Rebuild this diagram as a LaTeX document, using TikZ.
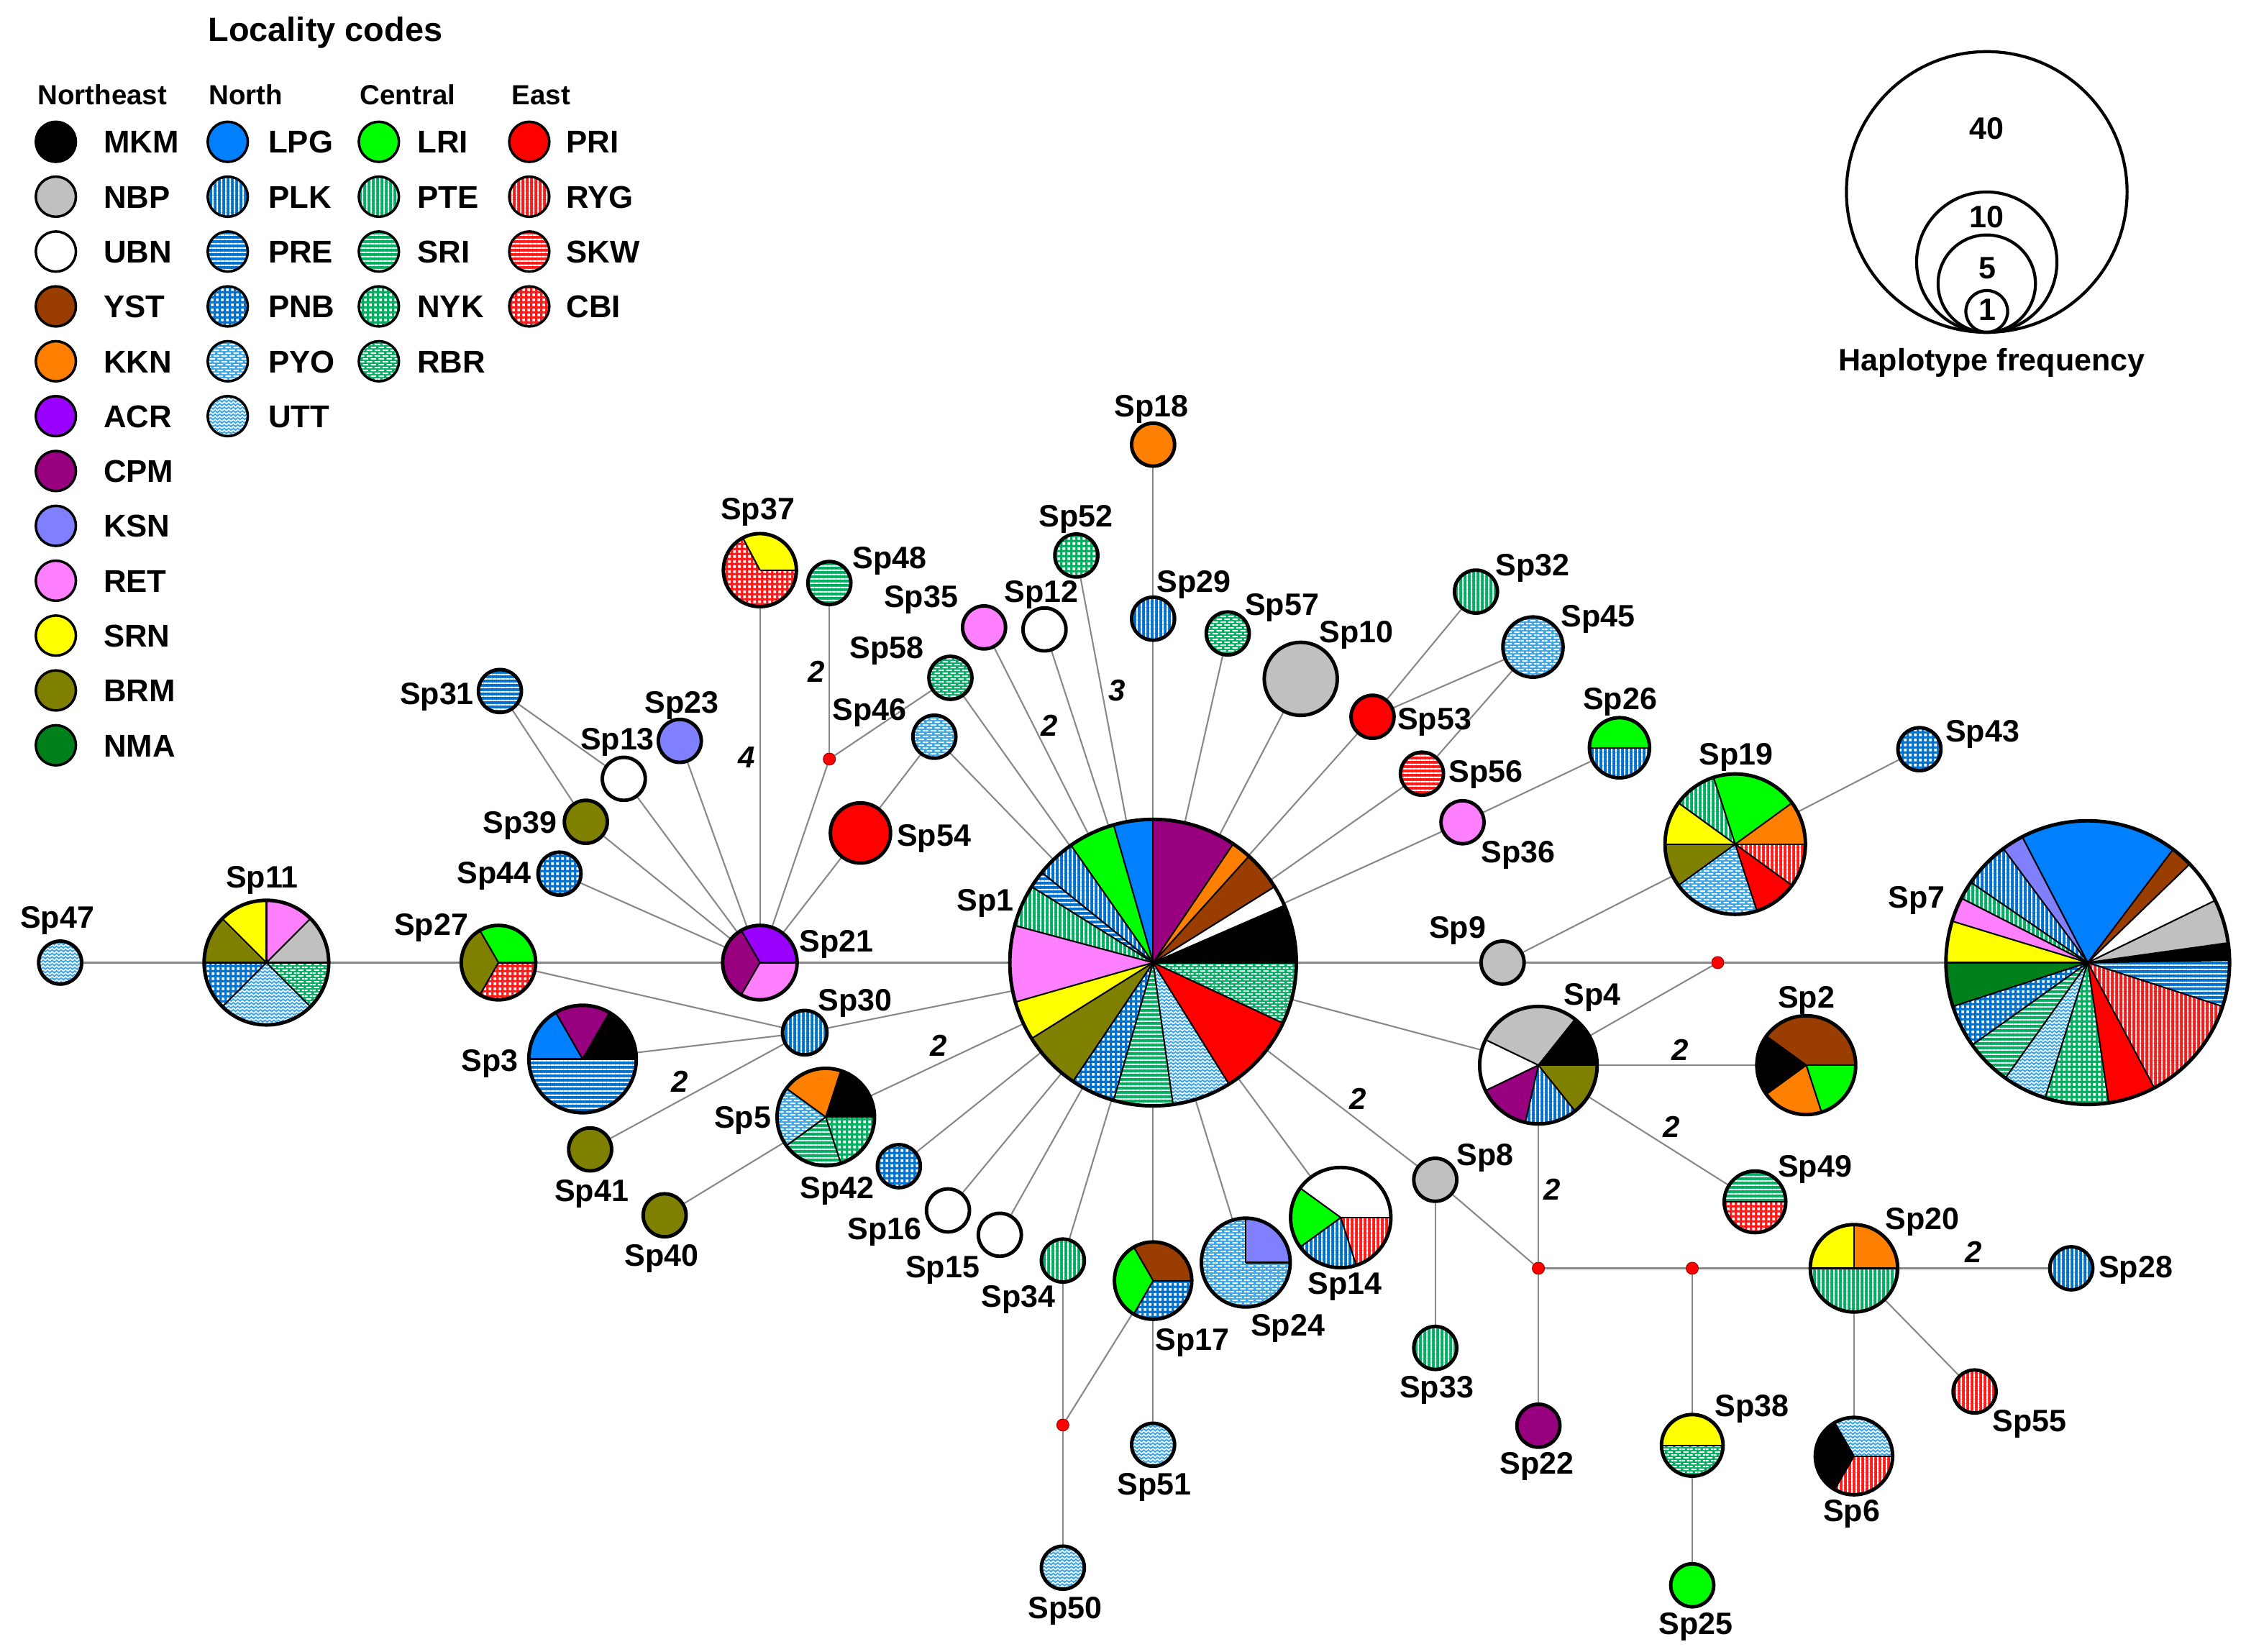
\documentclass[tikz,border=0pt]{standalone}
\usepackage{fontspec}
\setmainfont{Liberation Sans}
\usetikzlibrary{patterns}

% colours of the locality codes
\definecolor{cNBP}{HTML}{C0C0C0}
\definecolor{cYST}{HTML}{993D00}
\definecolor{cKKN}{HTML}{FF8000}
\definecolor{cACR}{HTML}{9900FF}
\definecolor{cCPM}{HTML}{990080}
\definecolor{cKSN}{HTML}{8080FF}
\definecolor{cRET}{HTML}{FF80FF}
\definecolor{cSRN}{HTML}{FFFF00}
\definecolor{cBRM}{HTML}{808000}
\definecolor{cNMA}{HTML}{00801A}
\definecolor{cLPG}{HTML}{0080FF}
\definecolor{cNor}{HTML}{0072CE}
\definecolor{cNorL}{HTML}{38A6E8}
\definecolor{cLRI}{HTML}{00FF00}
\definecolor{cCen}{HTML}{00B060}
\definecolor{cPRI}{HTML}{FF0000}
\definecolor{cEast}{HTML}{FF1A1A}
\definecolor{cLink}{HTML}{888888}

% white hatchings laid over the base colours
\pgfdeclarepatternformonly{vstripes}{\pgfpointorigin}{\pgfpoint{1.8pt}{1.8pt}}{\pgfpoint{1.8pt}{1.8pt}}{%
  \pgfpathrectangle{\pgfpointorigin}{\pgfpoint{0.7pt}{1.8pt}}\pgfusepath{fill}}
\pgfdeclarepatternformonly{hstripes}{\pgfpointorigin}{\pgfpoint{1.8pt}{1.8pt}}{\pgfpoint{1.8pt}{1.8pt}}{%
  \pgfpathrectangle{\pgfpointorigin}{\pgfpoint{1.8pt}{0.7pt}}\pgfusepath{fill}}
\pgfdeclarepatternformonly{cells}{\pgfpointorigin}{\pgfpoint{1.9pt}{1.9pt}}{\pgfpoint{1.9pt}{1.9pt}}{%
  \pgfpathrectangle{\pgfpoint{0.4pt}{0.4pt}}{\pgfpoint{1.1pt}{1.1pt}}\pgfusepath{fill}}
\pgfdeclarepatternformonly{brickwall}{\pgfpointorigin}{\pgfpoint{3.2pt}{2.4pt}}{\pgfpoint{3.2pt}{2.4pt}}{%
  \pgfpathrectangle{\pgfpoint{0.5pt}{0.3pt}}{\pgfpoint{2.2pt}{0.6pt}}%
  \pgfpathrectangle{\pgfpoint{2.1pt}{1.5pt}}{\pgfpoint{1.1pt}{0.6pt}}%
  \pgfpathrectangle{\pgfpoint{0pt}{1.5pt}}{\pgfpoint{1.1pt}{0.6pt}}%
  \pgfusepath{fill}}
\pgfdeclarepatternformonly{zigzag}{\pgfpoint{-0.5pt}{-0.5pt}}{\pgfpoint{2.3pt}{1.9pt}}{\pgfpoint{1.8pt}{1.4pt}}{%
  \pgfsetlinewidth{0.45pt}%
  \pgfpathmoveto{\pgfpoint{0pt}{0.2pt}}\pgfpathlineto{\pgfpoint{0.9pt}{1.0pt}}\pgfpathlineto{\pgfpoint{1.8pt}{0.2pt}}%
  \pgfusepath{stroke}}

\tikzset{
  patV/.style={postaction={pattern=vstripes, pattern color=white}},
  patH/.style={postaction={pattern=hstripes, pattern color=white}},
  patC/.style={postaction={pattern=cells, pattern color=white}},
  patB/.style={postaction={pattern=brickwall, pattern color=white}},
  patZ/.style={postaction={pattern=zigzag, pattern color=white}},
  % Northeast
  MKM/.style={fill=black}, NBP/.style={fill=cNBP}, UBN/.style={fill=white},
  YST/.style={fill=cYST}, KKN/.style={fill=cKKN}, ACR/.style={fill=cACR},
  CPM/.style={fill=cCPM}, KSN/.style={fill=cKSN}, RET/.style={fill=cRET},
  SRN/.style={fill=cSRN}, BRM/.style={fill=cBRM}, NMA/.style={fill=cNMA},
  % North
  LPG/.style={fill=cLPG}, PLK/.style={fill=cNor, patV}, PRE/.style={fill=cNor, patH},
  PNB/.style={fill=cNor, patC}, PYO/.style={fill=cNorL, patB}, UTT/.style={fill=cNorL, patZ},
  % Central
  LRI/.style={fill=cLRI}, PTE/.style={fill=cCen, patV}, SRI/.style={fill=cCen, patH},
  NYK/.style={fill=cCen, patC}, RBR/.style={fill=cCen, patB},
  % East
  PRI/.style={fill=cPRI}, RYG/.style={fill=cEast, patV}, SKW/.style={fill=cEast, patH},
  CBI/.style={fill=cEast, patC}
}

\newcommand{\labfont}{\bfseries\fontsize{12.3}{14}\selectfont}
\newcommand{\mutfont}{\bfseries\itshape\fontsize{12}{14}\selectfont}

% haplotype place holder, pie chart and one-colour disc
\newcommand{\hap}[3]{\node[hapshape, minimum size=#3*0.04cm] (#1) at (#2) {};}
\newcommand{\piechart}[3]{%
  \foreach \a/\b/\s in {#3}{%
    \fill[\s] (#1.center) -- ++(\a:#2) arc[start angle=\a, end angle=\b, radius=#2] -- cycle;}
  \foreach \a/\b/\s in {#3}{%
    \draw[wedgeline] (#1.center) -- ++(\a:#2);}
  \draw[rim] (#1.center) circle[radius=#2];}
\newcommand{\solid}[3]{%
  \fill[#3] (#1.center) circle[radius=#2];
  \draw[rim] (#1.center) circle[radius=#2];}

\begin{document}
\begin{tikzpicture}[x=0.02cm, y=-0.02cm,
    hapshape/.style={circle, inner sep=0pt, outer sep=0pt},
    mvdot/.style={circle, fill=red, draw=red!60!black, line width=0.3pt, inner sep=0pt, minimum size=0.17cm},
    link/.style={draw=cLink, line width=0.6pt},
    rim/.style={line width=1.4pt},
    wedgeline/.style={line width=0.6pt},
    hlab/.style={font=\labfont, inner sep=0pt, text height=8.8pt, text depth=0pt},
    mut/.style={font=\mutfont, inner sep=0pt, text height=8.6pt, text depth=0pt},
    legdot/.style={circle, inner sep=0pt, minimum size=0.56cm},
    loclab/.style={font=\bfseries\fontsize{12.5}{14}\selectfont, inner sep=0pt, anchor=west, text height=9pt, text depth=0pt},
    headfont/.style={font=\bfseries\fontsize{11}{13}\selectfont, inner sep=0pt, anchor=west, text height=8pt, text depth=0pt},
    freqring/.style={circle, draw, line width=1.2pt, inner sep=0pt}]

    \useasboundingbox (0,0) rectangle (1568,1153);

    % --- Legend: locality codes ---
    \node[font=\bfseries\fontsize{13.4}{15}\selectfont, inner sep=0pt, anchor=west] (loc) at (145,23) {Locality codes};
    \node[headfont] (hNE) at (26,66) {Northeast};
    \node[headfont] (hN) at (145.5,66) {North};
    \node[headfont] (hC) at (251,66) {Central};
    \node[headfont] (hE) at (357,66) {East};
    \foreach \c [count=\i from 0] in {MKM,NBP,UBN,YST,KKN,ACR,CPM,KSN,RET,SRN,BRM,NMA} {
        \node[legdot, \c] (k\c) at (39,99+38.3*\i) {};
        \draw[line width=1pt] (k\c.center) circle[radius=14];
        \node[loclab] (t\c) at (72,99+38.3*\i) {\c};
    }
    \foreach \c [count=\i from 0] in {LPG,PLK,PRE,PNB,PYO,UTT} {
        \node[legdot, \c] (k\c) at (159,99+38.3*\i) {};
        \draw[line width=1pt] (k\c.center) circle[radius=14];
        \node[loclab] (t\c) at (187,99+38.3*\i) {\c};
    }
    \foreach \c [count=\i from 0] in {LRI,PTE,SRI,NYK,RBR} {
        \node[legdot, \c] (k\c) at (264.5,99+38.3*\i) {};
        \draw[line width=1pt] (k\c.center) circle[radius=14];
        \node[loclab] (t\c) at (291,99+38.3*\i) {\c};
    }
    \foreach \c [count=\i from 0] in {PRI,RYG,SKW,CBI} {
        \node[legdot, \c] (k\c) at (369.5,99+38.3*\i) {};
        \draw[line width=1pt] (k\c.center) circle[radius=14];
        \node[loclab] (t\c) at (395,99+38.3*\i) {\c};
    }

    % --- Legend: haplotype frequency ---
    \node[freqring, minimum size=98*0.04cm] (f40) at (1387,134) {};
    \node[freqring, minimum size=49*0.04cm] (f10) at (1387,183) {};
    \node[freqring, minimum size=34*0.04cm] (f5) at (1387,198) {};
    \node[freqring, minimum size=14.6*0.04cm] (f1) at (1387,217.4) {};
    \node[hlab] (n40) at (1387,89.5) {40};
    \node[hlab] (n10) at (1387,151.4) {10};
    \node[hlab] (n5) at (1387.7,186.6) {5};
    \node[hlab] (n1) at (1387.7,216) {1};
    \node[hlab] (hf) at (1390.6,251) {Haplotype frequency};

    % --- Haplotypes ---
    \hap{Sp1}{805,672}{100}
    \hap{Sp7}{1457.5,672}{99}
    \hap{Sp11}{186,672}{43.5}
    \hap{Sp47}{42,672}{15}
    \hap{Sp27}{348,672}{26}
    \hap{Sp21}{530.5,672}{26}
    \hap{Sp37}{530.5,398}{25.5}
    \hap{Sp48}{579,407}{15}
    \hap{Sp23}{474.6,517.2}{15}
    \hap{Sp13}{435.5,543.7}{15}
    \hap{Sp31}{349,482.4}{15}
    \hap{Sp39}{409,573.7}{15}
    \hap{Sp44}{390.6,609.9}{15}
    \hap{Sp54}{600.7,581.5}{21}
    \hap{Sp46}{652.3,514.3}{15}
    \hap{Sp58}{663.5,473.2}{15}
    \hap{Sp35}{687,438}{15}
    \hap{Sp12}{729.2,439.4}{15}
    \hap{Sp52}{751.4,387.8}{15}
    \hap{Sp18}{805,310.4}{15}
    \hap{Sp29}{805,431.9}{15}
    \hap{Sp57}{857.1,442.2}{15}
    \hap{Sp10}{908.1,473.9}{25.5}
    \hap{Sp53}{958.2,500.4}{15}
    \hap{Sp32}{1030.4,413}{15}
    \hap{Sp45}{1070.2,451.7}{21}
    \hap{Sp56}{992.7,540.1}{15}
    \hap{Sp36}{1021,574}{15}
    \hap{Sp26}{1130.6,522}{21}
    \hap{Sp19}{1211.4,589.3}{49}
    \hap{Sp43}{1340,523}{15}
    \hap{Sp9}{1049,672}{15}
    \hap{Sp4}{1074,743.6}{41}
    \hap{Sp2}{1261,743.6}{34.5}
    \hap{Sp49}{1225.2,839}{21.5}
    \hap{Sp8}{1002,823.6}{15}
    \hap{Sp33}{1002,941}{15}
    \hap{Sp22}{1074,995.3}{15}
    \hap{Sp20}{1294.3,885.4}{30.5}
    \hap{Sp28}{1446,885.4}{15}
    \hap{Sp55}{1378.5,971.4}{15}
    \hap{Sp6}{1294.3,1016.5}{27}
    \hap{Sp38}{1181.4,1009}{21.5}
    \hap{Sp25}{1181.4,1106.7}{15}
    \hap{Sp3}{406.7,739.3}{37.5}
    \hap{Sp30}{561.8,720.9}{15.5}
    \hap{Sp41}{412,802.4}{15}
    \hap{Sp40}{464,848.4}{15}
    \hap{Sp5}{576.5,779.8}{34}
    \hap{Sp42}{627.5,814.1}{15}
    \hap{Sp16}{661.8,845}{15}
    \hap{Sp15}{698,862}{15}
    \hap{Sp34}{742,880}{15}
    \hap{Sp50}{742,1094.4}{15}
    \hap{Sp17}{805,894}{27}
    \hap{Sp51}{805,1008.6}{15}
    \hap{Sp24}{869.7,881.4}{31}
    \hap{Sp14}{936,850}{35}

    % --- Median vectors ---
    \node[mvdot] (mv1) at (579,529.9) {};
    \node[mvdot] (mv2) at (742,994.8) {};
    \node[mvdot] (mv3) at (1074,885.4) {};
    \node[mvdot] (mv4) at (1181.4,885.4) {};
    \node[mvdot] (mv5) at (1199.2,672) {};

    % --- Connectors ---
    \draw[link] (Sp47) -- (Sp11);
    \draw[link] (Sp11) -- (Sp27);
    \draw[link] (Sp27) -- (Sp21);
    \draw[link] (Sp21) -- (Sp1);
    \draw[link] (Sp1) -- (Sp9);
    \draw[link] (Sp9) -- (mv5);
    \draw[link] (mv5) -- (Sp7);
    \draw[link] (Sp27) -- (Sp30);
    \draw[link] (Sp3) -- (Sp30);
    \draw[link] (Sp41) -- (Sp30);
    \draw[link] (Sp30) -- (Sp1);
    \draw[link] (Sp40) -- (Sp5);
    \draw[link] (Sp5) -- (Sp1);
    \draw[link] (Sp42) -- (Sp1);
    \draw[link] (Sp16) -- (Sp1);
    \draw[link] (Sp15) -- (Sp1);
    \draw[link] (Sp34) -- (Sp1);
    \draw[link] (Sp34) -- (mv2);
    \draw[link] (mv2) -- (Sp50);
    \draw[link] (mv2) -- (Sp17);
    \draw[link] (Sp1) -- (Sp17);
    \draw[link] (Sp17) -- (Sp51);
    \draw[link] (Sp24) -- (Sp1);
    \draw[link] (Sp14) -- (Sp1);
    \draw[link] (Sp1) -- (Sp8);
    \draw[link] (Sp8) -- (Sp33);
    \draw[link] (Sp8) -- (mv3);
    \draw[link] (Sp4) -- (mv3);
    \draw[link] (mv3) -- (Sp22);
    \draw[link] (mv3) -- (mv4);
    \draw[link] (mv4) -- (Sp20);
    \draw[link] (mv4) -- (Sp38);
    \draw[link] (Sp38) -- (Sp25);
    \draw[link] (Sp20) -- (Sp28);
    \draw[link] (Sp20) -- (Sp55);
    \draw[link] (Sp20) -- (Sp6);
    \draw[link] (Sp4) -- (Sp2);
    \draw[link] (Sp4) -- (Sp49);
    \draw[link] (Sp1) -- (Sp4);
    \draw[link] (Sp4) -- (mv5);
    \draw[link] (Sp9) -- (Sp19);
    \draw[link] (Sp19) -- (Sp43);
    \draw[link] (Sp1) -- (Sp36);
    \draw[link] (Sp36) -- (Sp26);
    \draw[link] (Sp1) -- (Sp56);
    \draw[link] (Sp56) -- (Sp45);
    \draw[link] (Sp1) -- (Sp53);
    \draw[link] (Sp53) -- (Sp32);
    \draw[link] (Sp53) -- (Sp45);
    \draw[link] (Sp1) -- (Sp10);
    \draw[link] (Sp1) -- (Sp57);
    \draw[link] (Sp1) -- (Sp29);
    \draw[link] (Sp29) -- (Sp18);
    \draw[link] (Sp1) -- (Sp52);
    \draw[link] (Sp1) -- (Sp12);
    \draw[link] (Sp1) -- (Sp35);
    \draw[link] (Sp1) -- (Sp58);
    \draw[link] (Sp58) -- (mv1);
    \draw[link] (Sp48) -- (mv1);
    \draw[link] (mv1) -- (Sp21);
    \draw[link] (Sp46) -- (Sp1);
    \draw[link] (Sp46) -- (Sp54);
    \draw[link] (Sp54) -- (Sp21);
    \draw[link] (Sp37) -- (Sp21);
    \draw[link] (Sp23) -- (Sp21);
    \draw[link] (Sp13) -- (Sp21);
    \draw[link] (Sp31) -- (Sp13);
    \draw[link] (Sp31) -- (Sp39);
    \draw[link] (Sp39) -- (Sp21);
    \draw[link] (Sp44) -- (Sp21);

    % --- Pie charts ---
    \begin{scope}[y=0.02cm]
    \piechart{Sp1}{100}{56/90/CPM, 48/56/KKN, 32/48/YST, 23.5/32/UBN, 0/23.5/MKM, -25/0/RBR, -58/-25/PRI,
        -82/-58/UTT, -106/-82/SRI, -124/-106/PNB, -148/-124/BRM, -164/-148/SRN, 165/196/RET,
        148/165/PTE, 141/148/PRE, 125/141/PLK, 106/125/LRI, 90/106/LPG}
    \piechart{Sp7}{99}{53/117.5/LPG, 44/53/YST, 26/44/UBN, 8/26/NBP, 1/8/MKM, -18/1/PRE, -62/-18/RYG,
        -81.5/-62/PRI, -107.5/-81.5/NYK, -125.5/-107.5/UTT, -144.5/-125.5/SRI, -162/-144.5/PNB,
        -180/-162/NMA, 163/180/SRN, 153/163/RET, 145.5/153/PTE, 126.5/145.5/PLK, 117.5/126.5/KSN}
    \piechart{Sp11}{43.5}{0/45/NBP, 45/90/RET, 90/135/SRN, 135/180/BRM, 180/225/PNB, 225/315/UTT, 315/360/RBR}
    \piechart{Sp27}{26}{0/120/LRI, 120/240/BRM, 240/360/CBI}
    \piechart{Sp21}{26}{0/120/ACR, 120/240/CPM, 240/360/RET}
    \piechart{Sp37}{25.5}{0/118/SRN, 118/360/CBI}
    \piechart{Sp3}{37.5}{0/60/MKM, 60/120/CPM, 120/180/LPG, 180/360/PRE}
    \piechart{Sp5}{34}{0/72/MKM, 72/144/KKN, 144/216/PYO, 216/288/SRI, 288/360/NYK}
    \piechart{Sp17}{27}{0/120/YST, 120/240/LRI, 240/360/PNB}
    \piechart{Sp24}{31}{0/90/KSN, 90/360/PYO}
    \piechart{Sp14}{35}{0/144/UBN, 144/216/LRI, 216/288/PLK, 288/360/RYG}
    \piechart{Sp4}{41}{0/51.4/MKM, 51.4/154.3/NBP, 154.3/205.7/UBN, 205.7/257.1/CPM, 257.1/308.6/PLK, 308.6/360/BRM}
    \piechart{Sp2}{34.5}{0/144/YST, 144/216/MKM, 216/288/KKN, 288/360/LRI}
    \piechart{Sp49}{21.5}{0/180/SRI, 180/360/CBI}
    \piechart{Sp20}{30.5}{0/90/KKN, 90/180/SRN, 180/360/PTE}
    \piechart{Sp38}{21.5}{0/180/SRN, 180/360/RBR}
    \piechart{Sp6}{27}{0/120/UTT, 120/240/MKM, 240/360/RYG}
    \piechart{Sp19}{49}{0/36/KKN, 36/108/LRI, 108/144/PTE, 144/180/SRN, 180/216/BRM, 216/288/PYO, 288/324/PRI, 324/360/RYG}
    \piechart{Sp26}{21}{0/180/LRI, 180/360/PLK}
    % one-colour haplotypes
    \solid{Sp47}{15}{UTT}
    \solid{Sp31}{15}{PRE}
    \solid{Sp13}{15}{UBN}
    \solid{Sp23}{15}{KSN}
    \solid{Sp39}{15}{BRM}
    \solid{Sp44}{15}{PNB}
    \solid{Sp48}{15}{SRI}
    \solid{Sp58}{15}{RBR}
    \solid{Sp46}{15}{PYO}
    \solid{Sp54}{21}{PRI}
    \solid{Sp35}{15}{RET}
    \solid{Sp12}{15}{UBN}
    \solid{Sp52}{15}{NYK}
    \solid{Sp18}{15}{KKN}
    \solid{Sp29}{15}{PLK}
    \solid{Sp57}{15}{RBR}
    \solid{Sp10}{25.5}{NBP}
    \solid{Sp53}{15}{PRI}
    \solid{Sp32}{15}{PTE}
    \solid{Sp45}{21}{PYO}
    \solid{Sp56}{15}{SKW}
    \solid{Sp36}{15}{RET}
    \solid{Sp43}{15}{PNB}
    \solid{Sp9}{15}{NBP}
    \solid{Sp30}{15.5}{PLK}
    \solid{Sp41}{15}{BRM}
    \solid{Sp40}{15}{BRM}
    \solid{Sp42}{15}{PNB}
    \solid{Sp16}{15}{UBN}
    \solid{Sp15}{15}{UBN}
    \solid{Sp34}{15}{PTE}
    \solid{Sp51}{15}{UTT}
    \solid{Sp50}{15}{UTT}
    \solid{Sp8}{15}{NBP}
    \solid{Sp33}{15}{PTE}
    \solid{Sp22}{15}{CPM}
    \solid{Sp25}{15}{LRI}
    \solid{Sp28}{15}{PLK}
    \solid{Sp55}{15}{RYG}
    \end{scope}

    % --- Haplotype names ---
    \foreach \n/\x/\y in {1/688/628, 7/1338/626, 11/183/612, 47/40/640, 27/301/645, 21/584/657,
        37/529/355, 48/621/389, 23/476/490, 13/431/515.5, 31/305/484, 39/363/574, 44/345/609,
        54/652/583, 46/607/495, 58/619/452, 35/643/416.5, 12/727/413, 52/751/360, 18/804/283,
        29/833.5/405.5, 57/895/422, 10/947/441, 53/1001.5/501.5, 32/1070/394, 45/1115.5/430,
        56/1037.5/538.5, 36/1060/594.5, 26/1131/487.5, 19/1212/526, 43/1384/510, 9/1017.5/647,
        4/1111.5/694, 2/1261/696, 49/1267/814, 8/1037/806, 33/1003/968, 22/1073/1021.5,
        20/1342/850.5, 28/1491/884, 55/1417/991.5, 6/1292.6/1054.5, 38/1223/981, 25/1184/1133,
        3/342/740, 30/597/698, 41/413/831, 40/462/876, 5/518.5/780, 42/584.5/829, 16/617.5/857.5,
        15/658/884, 34/711/905, 50/743.5/1122, 17/832.5/935, 51/806/1036, 24/899/925, 14/939/896}
        \node[hlab] (tSp\n) at (\x,\y) {Sp\n};

    % --- Mutation steps ---
    \node[mut] (s1) at (474.7,754.7) {2};
    \node[mut] (s2) at (655.4,729.6) {2};
    \node[mut] (s3) at (732.7,506.3) {2};
    \node[mut] (s4) at (779.6,481.9) {3};
    \node[mut] (s5) at (521.3,528.5) {4};
    \node[mut] (s6) at (570.1,468.6) {2};
    \node[mut] (s7) at (948,767) {2};
    \node[mut] (s8) at (1083.6,830.3) {2};
    \node[mut] (s9) at (1172.8,733) {2};
    \node[mut] (s10) at (1166.9,786.6) {2};
    \node[mut] (s11) at (1377.8,873.7) {2};

\end{tikzpicture}
\end{document}
